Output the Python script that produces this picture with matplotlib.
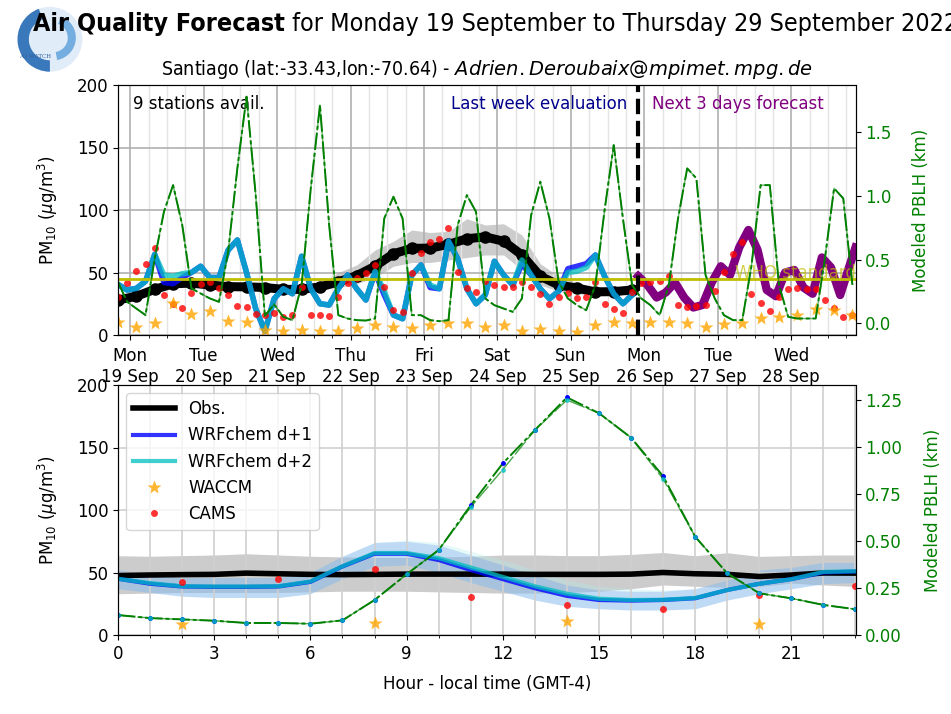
import numpy as np
import matplotlib
matplotlib.use("Agg")
import matplotlib.pyplot as plt
from matplotlib.ticker import MultipleLocator
from matplotlib.patches import Wedge, Circle

# ---- time axis: hours from Monday 19 Sep 00h (local) ----
day_ticks = [0, 24, 48, 72, 96, 120, 144, 168, 192, 216]
day_labels = ["Mon\n19 Sep", "Tue\n20 Sep", "Wed\n21 Sep", "Thu\n22 Sep", "Fri\n23 Sep",
              "Sat\n24 Sep", "Sun\n25 Sep", "Mon\n26 Sep", "Tue\n27 Sep", "Wed\n28 Sep"]
t_start, t_end, t_now = -4, 237, 166

# observations (6-hourly), mean and spread
obs_h = list(range(-4, 165, 6))
obs_pm = [28, 31, 36.5, 41, 41.5, 40, 38.7, 38.5, 38, 36.5, 36.5, 38.5, 42.5, 47.5, 55,
          65, 69.3, 69.5, 72.5, 77, 78.5, 75, 64, 47, 40, 37.5, 34.5, 34.7, 36]
obs_lo = [27, 30, 35.5, 40, 40.5, 39, 37.7, 37.5, 37, 35.5, 35.5, 36, 38, 41, 46,
          55, 58, 58, 60, 62, 64, 64, 52, 40, 35, 33, 32, 33, 35]
obs_hi = [29, 32, 37.5, 42, 42.5, 41, 39.7, 39.5, 39, 37.5, 37.5, 41, 50, 56, 68,
          75, 84, 82, 83, 93, 88, 89, 80, 57, 47, 42, 38, 36, 37]

# WRFchem evaluation (3-hourly)
wrf_h = list(range(-4, 165, 3))
wrf_d1 = [40.5, 36, 37.3, 43, 64.5, 42, 41, 46, 50, 55, 46, 46, 68, 76, 50, 21, 3, 29, 37, 33,
          63, 37, 25, 24, 37, 48, 37, 28, 50, 32, 16, 13, 48, 56, 38, 37, 75, 61, 37, 25,
          32, 59, 48, 40, 57, 48, 37, 29, 35, 53, 55, 57, 64, 47, 33, 25, 32]
wrf_d2 = [40.5, 36, 37.3, 43, 64.5, 48, 47, 49, 50, 55, 46, 46, 68, 76, 50, 21, 3, 29, 37, 33,
          63, 37, 25, 24, 37, 48, 37, 28, 51, 35, 16, 13, 48, 56, 40, 37, 75, 61, 37, 25,
          32, 59, 48, 40, 60, 48, 37, 29, 35, 50, 51, 54, 64, 47, 33, 25, 32]

# WRFchem forecast (3-hourly)
fc_h = [166, 169, 172, 175, 178, 181, 184, 187, 190, 193, 196, 199, 202, 205, 208, 211,
        214, 217, 220, 223, 226, 229, 232, 235, 237]
fc_pm = [47, 40, 30, 34, 42, 30, 22, 24, 42, 55, 48, 70, 84, 68, 36, 31,
         50, 52, 38, 33, 62, 54, 32, 55, 70]

# CAMS (3-hourly) and WACCM (6-hourly)
cams_h = list(range(-4, 237, 3))
cams_pm = [30.7, 42, 51.5, 56.8, 69.9, 32, 24.8, 21.9, 33.3, 40.8,
           42.7, 37.3, 32, 23.5, 22.7, 16.5, 16, 17.3, 14.7, 16,
           38.7, 16, 16, 15.2, 30.7, 41.3, 45.9, 49.3, 56, 38.7,
           20, 18.7, 49.3, 65.3, 74.7, 76.8, 85.9, 50.1, 37.3, 34.7,
           43.2, 40, 38.7, 38.7, 42.1, 38.7, 32.5, 24.5, 30.7, 33.3,
           29.3, 30.7, 42.7, 24.5, 20.5, 17.9, 34.7, 41.3, 42.1, 43.2,
           47.5, 24, 22.7, 23, 24, 35.2, 50.1, 64.5, 74.7, 32.5,
           25.3, 19.2, 30.7, 36.8, 37.9, 36.8, 36.8, 28, 21.9, 14.7, 16]
waccm_h = list(range(-4, 237, 6))
waccm_pm = [10.7, 6.7, 9.3, 25.3, 17, 19.2, 11.5, 10.7, 4, 3.2,
            4, 3.2, 3.2, 5.9, 8, 6.7, 5.3, 8, 9.3, 9.3,
            6.1, 8, 3.5, 4.8, 3.2, 2.1, 8, 10.1, 9.3, 10.1,
            10.1, 9.3, 6.1, 8.5, 9.9, 13.3, 14.1, 16, 20.8, 20, 16]

# modeled PBLH (km, 3-hourly)
pblh_h = list(range(-4, 237, 3))
pblh_km = [0.325, 0.169, 0.117, 0.065, 0.508, 0.873, 1.082, 0.769, 0.274, 0.235,
           0.196, 0.169, 0.561, 1.213, 1.774, 1.004, 0.06, 0.15, 0.052, 0.026,
           0.3, 1.057, 1.708, 0.769, 0.065, 0.039, 0.026, 0.023, 0.039, 0.821,
           0.991, 0.821, 0.065, 0.065, 0.026, 0.018, 0.026, 0.769, 1.004, 0.873,
           0.196, 0.143, 0.117, 0.091, 0.196, 0.847, 1.109, 0.821, 0.325, 0.196,
           0.143, 0.104, 0.3, 0.886, 1.395, 0.821, 0.3, 0.196, 0.143, 0.065,
           0.3, 0.821, 1.213, 1.135, 0.378, 0.196, 0.065, 0.026, 0.026, 0.45,
           1.082, 1.082, 0.3, 0.052, 0.039, 0.039, 0.039, 0.508, 1.057, 0.978, 0.3]

# ---- diurnal cycle (bottom panel) ----
hours = list(range(24))
d_obs = [47.6, 48, 48.3, 48.5, 49.5, 49, 48.5, 48.3, 48.5, 48.7, 48.7, 48.7, 48.7, 48.5,
         48.5, 48.5, 48.7, 50, 49, 48.5, 46.8, 48, 49.6, 49.5]
d_obs_lo = [33, 33.5, 34, 34, 34, 34, 34.5, 35, 35, 35, 34.5, 34, 33.5, 33.5, 34, 35,
            37, 40, 39, 38, 38.8, 41.5, 40, 38.8]
d_obs_hi = [63.4, 63, 63.5, 64, 65, 64, 63, 62.5, 62, 62, 62.5, 63, 64, 64, 63.5, 63.5,
            64.5, 66, 63.4, 65.8, 62.9, 63.5, 64, 64]
d_wrf1 = [45, 41, 38.8, 38.5, 38.5, 38.8, 42.5, 54.8, 65, 65, 60, 52, 44.7, 37.4, 31.3,
          28, 27.5, 28, 29.4, 36, 41, 44.7, 50, 50.8]
d_wrf2 = [45, 41.5, 39, 38.8, 38.8, 39, 42.8, 55, 65.6, 65.6, 61.5, 54, 46.5, 39, 33,
          29, 28, 28.2, 29.6, 36, 41, 44.7, 50.5, 51]
d_wrf1_lo = [37, 34, 31, 30, 30, 30, 33, 45, 55, 56, 50, 42, 35, 28, 23, 21, 20, 20, 21,
             28, 33, 37, 41, 42]
d_wrf1_hi = [52, 49, 46, 46, 46, 46, 50, 63, 74, 75, 72, 64, 56, 48, 40, 36, 35, 35, 37,
             44, 52, 54, 58, 58]
d_wrf2_hi = [52, 49, 46, 46, 46, 46, 50, 63, 74, 76, 74, 67, 60, 52, 44, 39, 37, 36, 37,
             44, 52, 54, 58, 58]
d_cams_h = [2, 5, 8, 11, 14, 17, 20, 23]
d_cams = [42.8, 45, 53, 30.8, 24, 21, 32, 39]
d_waccm_h = [2, 8, 14, 20]
d_waccm = [8.6, 9.6, 11.5, 8.8]
d_pblh1 = [0.106, 0.09, 0.083, 0.076, 0.064, 0.064, 0.06, 0.078, 0.186, 0.323, 0.452, 0.69,
           0.913, 1.09, 1.264, 1.18, 1.05, 0.845, 0.523, 0.328, 0.222, 0.195, 0.16, 0.137]
d_pblh2 = [0.106, 0.09, 0.083, 0.076, 0.064, 0.064, 0.06, 0.078, 0.186, 0.323, 0.452, 0.68,
           0.88, 1.09, 1.25, 1.18, 1.05, 0.83, 0.523, 0.328, 0.222, 0.195, 0.16, 0.137]

FS = 12
PBLH_LS1 = (0, (9, 1.5, 2, 1.5))
PBLH_LS2 = (0, (12, 2))
fig = plt.figure(figsize=(9.51, 7.14), dpi=100)

# logo
lax = fig.add_axes([0.015, 0.895, 0.075, 0.1])
lax.set_aspect('equal')
lax.set_xlim(-1.1, 1.1)
lax.set_ylim(-1.1, 1.1)
lax.axis('off')
lax.add_patch(Circle((0, 0), 1.0, fc='#d4e4f4', ec='none', alpha=0.7))
lax.add_patch(Wedge((0, 0), 1.0, 110, 270, width=0.35, fc='#3a78bc', ec='none'))
lax.add_patch(Wedge((0.1, 0.05), 0.7, 280, 70, width=0.25, fc='#74aee0', ec='none'))
lax.text(-0.95, -0.55, 'AQ-WATCH', fontsize=4, color='#3060a0', family='serif')

# title: bold part + normal part
ty = 1 - 24 / 714
t1 = fig.text(33 / 951, ty, 'Air Quality Forecast', fontsize=18, fontweight='bold',
              fontstretch='condensed', va='center', ha='left')
fig.canvas.draw()
bb = t1.get_window_extent()
fig.text(bb.x1 / fig.bbox.width, ty, ' for Monday 19 September to Thursday 29 September 2022',
         fontsize=18, fontstretch='condensed', va='center', ha='left')

# ---------------- top panel ----------------
ax1 = fig.add_axes([118 / 951, 1 - 335 / 714, 737.5 / 951, 250 / 714])
ax1.set_title('Santiago (lat:-33.43,lon:-70.64) - $Adrien.Deroubaix@mpimet.mpg.de$',
              fontsize=14, fontstretch='condensed', pad=7)
ax1.fill_between(obs_h, obs_lo, obs_hi, color='gray', alpha=0.4, lw=0)
ax1.plot(obs_h, obs_pm, color='k', lw=6.5, marker='o', ms=8)
ax1.plot(wrf_h, wrf_d1, color='b', alpha=0.8, lw=4)
ax1.plot(wrf_h, wrf_d2, color='c', alpha=0.75, lw=4)
ax1.plot(fc_h, fc_pm, color='purple', lw=6)
ax1.plot(cams_h, cams_pm, 'o', color='red', alpha=0.8, ms=5, mec='none')
ax1.plot(waccm_h, waccm_pm, '*', color='orange', alpha=0.8, ms=10, mec='none')
ax1.axhline(45, color='y', lw=2)
ax1.axvline(t_now, color='k', ls='--', lw=3)
ax1.text(t_end, 49.5, 'WHO standard', color='y', alpha=0.7, ha='right', va='center', fontsize=FS)
ax1.text(1, 185, '9 stations avail.', ha='left', va='center', fontsize=FS)
ax1.text(t_now - 3.5, 185, 'Last week evaluation', color='darkblue', ha='right', va='center', fontsize=FS)
ax1.text(t_now + 4.5, 185, 'Next 3 days forecast', color='purple', ha='left', va='center', fontsize=FS)
ax1.set_xlim(t_start, t_end)
ax1.set_ylim(0, 200)
ax1.set_xticks(day_ticks)
ax1.set_xticklabels(day_labels)
ax1.xaxis.set_minor_locator(MultipleLocator(6))
ax1.set_yticks([0, 50, 100, 150, 200])
ax1.grid(which='major', color='#b0b0b0', lw=1.2)
ax1.grid(which='minor', axis='x', color='#e4e4e4', lw=1)
ax1.tick_params(labelsize=FS)
ax1.tick_params(axis='x', pad=5)
ax1.set_ylabel('PM$_{10}$ ($\\mu$g/m$^3$)', fontsize=FS, labelpad=12)

ax1r = ax1.twinx()
ax1r.plot(pblh_h, pblh_km, color='g', ls=PBLH_LS1, lw=1.4)
ax1r.plot(pblh_h, pblh_km, color='g', ls=PBLH_LS2, lw=1.0, alpha=0.6)
ax1r.set_ylim(-0.09, 1.865)
ax1r.set_yticks([0, 0.5, 1.0, 1.5])
ax1r.tick_params(axis='y', labelcolor='g', labelsize=FS)
ax1r.set_ylabel('Modeled PBLH (km)', color='g', fontsize=FS, labelpad=15)

# ---------------- bottom panel ----------------
ax2 = fig.add_axes([118 / 951, 1 - 635 / 714, 737.5 / 951, 250 / 714])
ax2.fill_between(hours, d_obs_lo, d_obs_hi, color='gray', alpha=0.4, lw=0)
ax2.fill_between(hours, d_wrf1_lo, d_wrf2_hi, color='paleturquoise', alpha=0.3, lw=0)
ax2.fill_between(hours, d_wrf1_lo, d_wrf1_hi, color='cornflowerblue', alpha=0.3, lw=0)
h_obs, = ax2.plot(hours, d_obs, color='k', lw=4, label='Obs.')
h_w1, = ax2.plot(hours, d_wrf1, color='b', alpha=0.8, lw=3, label='WRFchem d+1')
h_w2, = ax2.plot(hours, d_wrf2, color='c', alpha=0.75, lw=3, label='WRFchem d+2')
h_wa, = ax2.plot(d_waccm_h, d_waccm, '*', color='orange', alpha=0.8, ms=10, mec='none', label='WACCM')
h_ca, = ax2.plot(d_cams_h, d_cams, 'o', color='red', alpha=0.8, ms=5, mec='none', label='CAMS')
ax2.set_xlim(0, 23)
ax2.set_ylim(0, 200)
ax2.set_xticks(range(0, 24, 3))
ax2.xaxis.set_minor_locator(MultipleLocator(1))
ax2.set_yticks([0, 50, 100, 150, 200])
ax2.grid(which='major', color='#d0d0d0', lw=1.2)
ax2.grid(which='minor', axis='x', color='#d0d0d0', lw=1.2)
ax2.tick_params(labelsize=FS)
ax2.set_ylabel('PM$_{10}$ ($\\mu$g/m$^3$)', fontsize=FS, labelpad=12)
ax2.set_xlabel('Hour - local time (GMT-4)', fontsize=FS, labelpad=9)

ax2r = ax2.twinx()
ax2r.plot(hours, d_pblh1, color='g', ls=PBLH_LS1, lw=1.4, marker='o', ms=2.5, mfc='b', mec='b')
ax2r.plot(hours, d_pblh2, color='g', ls=PBLH_LS2, lw=1.0, marker='o', ms=2.5, mfc='c', mec='c', alpha=0.7)
ax2r.set_ylim(0, 1.33)
ax2r.set_yticks([0, 0.25, 0.5, 0.75, 1.0, 1.25])
ax2r.set_yticklabels(['0.00', '0.25', '0.50', '0.75', '1.00', '1.25'])
ax2r.tick_params(axis='y', labelcolor='g', labelsize=FS)
ax2r.set_ylabel('Modeled PBLH (km)', color='g', fontsize=FS, labelpad=16)
ax2r.legend(handles=[h_obs, h_w1, h_w2, h_wa, h_ca], loc='upper left', fontsize=FS,
            handlelength=2.5, numpoints=1, framealpha=0.8)

fig.savefig('out.png', dpi=100)
